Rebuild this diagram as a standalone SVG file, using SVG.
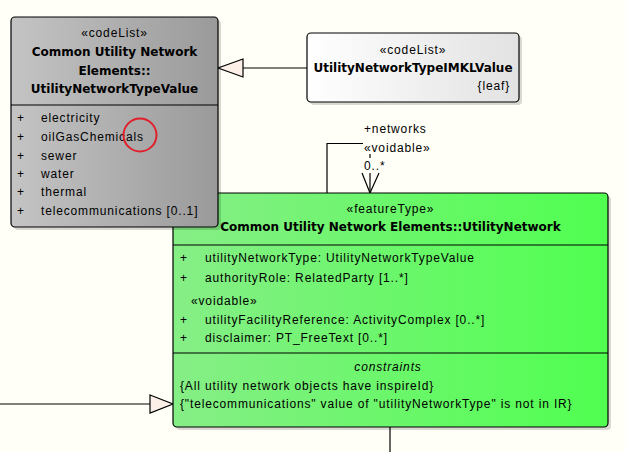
<svg xmlns="http://www.w3.org/2000/svg" width="625" height="452" viewBox="0 0 625 452">
<style>
text{font-family:"Liberation Sans",Arial,sans-serif;font-size:12px;letter-spacing:0.85px;fill:#000}
.b{font-family:"DejaVu Sans","Liberation Sans",Arial,sans-serif;font-weight:bold;font-size:12px;letter-spacing:0}
.c{text-anchor:middle}
.i{font-style:italic}
.box{stroke:#000;stroke-width:1.2}
.ln{stroke:#000;stroke-width:1.2;fill:none}
.sh{fill:#000;opacity:0.15}
</style>
<defs>
<linearGradient id="gGrey" x1="0" y1="0" x2="1" y2="0">
<stop offset="0" stop-color="#c4c4c4"/><stop offset="1" stop-color="#9a9a9a"/>
</linearGradient>
<linearGradient id="gWhite" x1="0" y1="0" x2="1" y2="0">
<stop offset="0" stop-color="#ffffff"/><stop offset="1" stop-color="#e2e2e2"/>
</linearGradient>
<linearGradient id="gGreen" x1="0" y1="0" x2="1" y2="0">
<stop offset="0" stop-color="#86ee86"/><stop offset="1" stop-color="#50ff50"/>
</linearGradient>
</defs>
<rect width="625" height="452" fill="#fffff7"/>
<g id="connectors">
<line class="ln" x1="307" y1="68" x2="243" y2="68"/>
<polygon points="243,59 218,68 243,77" fill="#fbefe8" stroke="#000" stroke-width="1.2"/>
<line class="ln" x1="0" y1="404" x2="150" y2="404"/>
<polygon points="150,395 173,404 150,413" fill="#fbefe8" stroke="#000" stroke-width="1.2"/>
<line class="ln" x1="390" y1="427" x2="390" y2="452"/>
<polyline class="ln" points="327,193 327,143.5 363,143.5"/>
<line class="ln" x1="370" y1="154" x2="370" y2="158"/>
<line class="ln" x1="370" y1="173" x2="370" y2="193"/>
<polyline class="ln" points="362,173 370,193 379,173"/>
<text x="364" y="133">+networks</text>
<text x="364" y="152">«voidable»</text>
<text x="364" y="170">0..*</text>
</g>
<g id="UtilityNetwork">
<rect class="sh" x="176" y="196" width="435" height="234" rx="4"/>
<rect class="box" x="173" y="193" width="435" height="234" rx="4" fill="url(#gGreen)"/>
<line class="ln" x1="173" y1="245" x2="608" y2="245"/>
<line class="ln" x1="173" y1="353" x2="608" y2="353"/>
<text class="c" x="390.5" y="213">«featureType»</text>
<text class="b c" x="390.5" y="231">Common Utility Network Elements::UtilityNetwork</text>
<text x="180" y="262">+</text><text x="205" y="262">utilityNetworkType: UtilityNetworkTypeValue</text>
<text x="180" y="282">+</text><text x="205" y="282">authorityRole: RelatedParty [1..*]</text>
<text x="191" y="305">«voidable»</text>
<text x="180" y="324">+</text><text x="205" y="324">utilityFacilityReference: ActivityComplex [0..*]</text>
<text x="180" y="342">+</text><text x="205" y="342">disclaimer: PT_FreeText [0..*]</text>
<text class="i c" x="388" y="371">constraints</text>
<text x="180" y="390">{All utility network objects have inspireId}</text>
<text x="180" y="408">{"telecommunications" value of "utilityNetworkType" is not in IR}</text>
</g>
<g id="UtilityNetworkTypeValue">
<rect class="sh" x="14" y="20" width="207" height="210" rx="4"/>
<rect class="box" x="11" y="17" width="207" height="210" rx="4" fill="url(#gGrey)"/>
<line class="ln" x1="11" y1="105" x2="218" y2="105"/>
<text class="c" x="114.5" y="37">«codeList»</text>
<text class="b c" x="114.5" y="56">Common Utility Network</text>
<text class="b c" x="114.5" y="75">Elements::</text>
<text class="b c" x="114.5" y="93">UtilityNetworkTypeValue</text>
<text x="17" y="122">+</text><text x="41" y="122">electricity</text>
<text x="17" y="141">+</text><text x="41" y="141">oilGasChemicals</text>
<text x="17" y="160">+</text><text x="41" y="160">sewer</text>
<text x="17" y="178">+</text><text x="41" y="178">water</text>
<text x="17" y="196">+</text><text x="41" y="196">thermal</text>
<text x="17" y="215">+</text><text x="41" y="215">telecommunications [0..1]</text>
<circle cx="140" cy="135" r="16.5" fill="none" stroke="#e0202a" stroke-width="2"/>
</g>
<g id="UtilityNetworkTypeIMKLValue">
<rect class="sh" x="310" y="36" width="212" height="69" rx="4"/>
<rect class="box" x="307" y="33" width="212" height="69" rx="4" fill="url(#gWhite)"/>
<text class="c" x="413" y="54">«codeList»</text>
<text class="b c" x="413" y="72">UtilityNetworkTypeIMKLValue</text>
<text x="510" y="90" text-anchor="end">{leaf}</text>
</g>
</svg>
